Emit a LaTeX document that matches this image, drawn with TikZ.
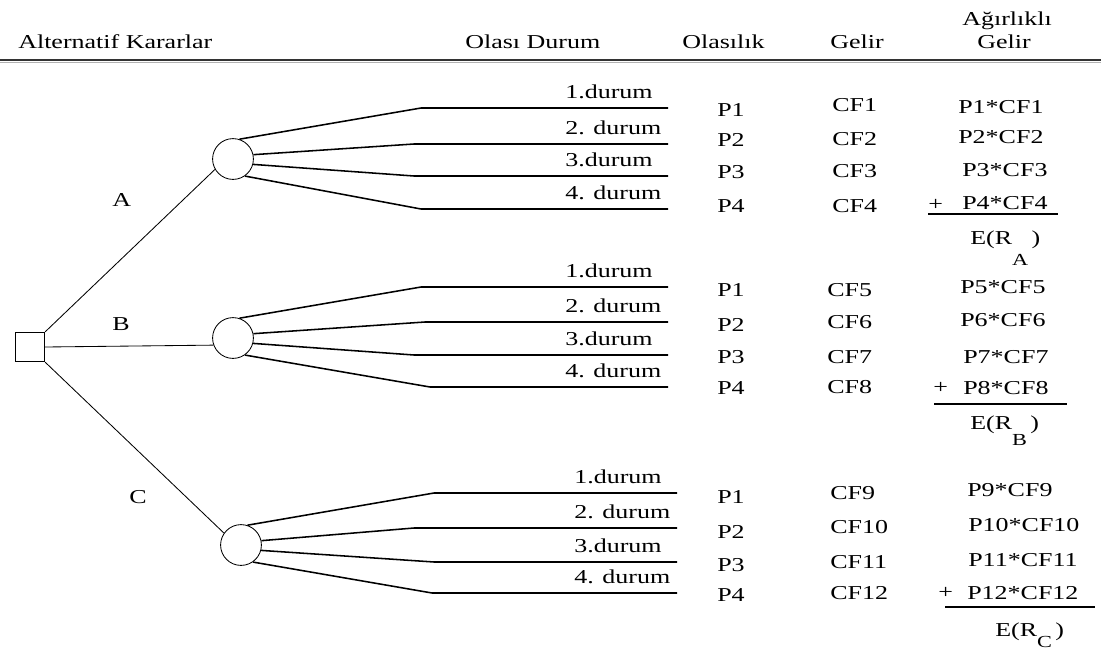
\documentclass[tikz,border=0pt]{standalone}
\usepackage{fontspec}
\setmainfont[FakeStretch=1.32]{Liberation Serif}
\usetikzlibrary{positioning}

\newcommand{\subidx}[2]{\raisebox{#1}{\fontsize{12}{14}\selectfont #2}}

\tikzset{
  chance/.style={draw, circle, minimum size=1.02cm, inner sep=0pt, line width=0.6pt},
  decision/.style={draw, rectangle, minimum size=0.74cm, inner sep=0pt, line width=0.6pt},
  outcome/.style={line width=1.1pt},
  branch/.style={line width=0.6pt},
  head/.style={font=\fontsize{14}{16}\selectfont, inner sep=0pt, anchor=base west},
  lbl/.style={font=\fontsize{14}{16}\selectfont, inner sep=0pt, anchor=base west},
  cell/.style={font=\fontsize{14}{16}\selectfont, inner sep=0pt, anchor=west}
}

\begin{document}
\begin{tikzpicture}[x=0.025cm, y=-0.025cm]
\useasboundingbox (0,0) rectangle (1101,653);

% column headings
\node[head] (hAlt) at (18,48) {Alternatif Kararlar};
\node[head] (hDur) at (465,48) {Olası Durum};
\node[head] (hOla) at (682,48) {Olasılık};
\node[head] (hGel) at (830,48) {Gelir};
\node[head] (hAgi) at (962,25) {Ağırlıklı};
\node[head] (hAgG) at (977,48) {Gelir};
\draw[line width=1.5pt, black!80] (0,60) -- (1101,60);
\draw[line width=0.8pt, black!30] (0,62.5) -- (1101,62.5);

% decision node and chance nodes
\node[decision] (dec) at (30,347) {};
\node[chance] (ca) at (233,159) {};
\node[chance] (cb) at (233,338) {};
\node[chance] (cc) at (241,545) {};

% alternatives
\draw[branch] (dec.north east) -- (ca.210);
\draw[branch] (dec.east) -- (cb.200);
\draw[branch] (dec.south east) -- (cc.145);
\node[cell] (lA) at (112,200) {A};
\node[cell] (lB) at (112,324) {B};
\node[cell] (lC) at (129,497) {C};

% outcomes of A
\foreach \n/\ang/\xs/\y/\lab in {1/72/421/108/1.durum, 2/12/414/144/2. durum, 3/-15/414/176/3.durum, 4/-55/421/209/4. durum}{
  \coordinate (a\n) at (\xs,\y);
  \coordinate (ae\n) at (668,\y);
  \draw[outcome] (ca.\ang) -- (a\n) -- (ae\n);
  \node[lbl] (al\n) at (565,\y-10) {\lab};
}
% outcomes of B
\foreach \n/\ang/\xs/\y/\lab in {1/72/421/287/1.durum, 2/12/425/322/2. durum, 3/-15/414/355/3.durum, 4/-55/430/387/4. durum}{
  \coordinate (b\n) at (\xs,\y);
  \coordinate (be\n) at (668,\y);
  \draw[outcome] (cb.\ang) -- (b\n) -- (be\n);
  \node[lbl] (bl\n) at (565,\y-10) {\lab};
}
% outcomes of C
\foreach \n/\ang/\xs/\y/\lab in {1/72/434/493/1.durum, 2/12/414/528/2. durum, 3/-15/434/562/3.durum, 4/-55/432/593/4. durum}{
  \coordinate (c\n) at (\xs,\y);
  \coordinate (ce\n) at (677,\y);
  \draw[outcome] (cc.\ang) -- (c\n) -- (ce\n);
  \node[lbl] (cl\n) at (574,\y-10) {\lab};
}

% probabilities, incomes and weighted incomes
\foreach \n/\py/\cy/\wx/\wy in {1/110/105/958/107, 2/140/139/958/137, 3/172/171/962/170, 4/206/206/962/203}{
  \node[cell] (ap\n) at (717,\py) {P\n};
  \node[cell] (acf\n) at (832,\cy) {CF\n};
  \node[cell] (aw\n) at (\wx,\wy) {P\n*CF\n};
}
\foreach \n/\k/\py/\cy/\wx/\wy in {1/5/290/290/960/287, 2/6/325/322/960/320, 3/7/357/357/963/357, 4/8/388/387/963/388}{
  \node[cell] (bp\n) at (717,\py) {P\n};
  \node[cell] (bcf\n) at (827,\cy) {CF\k};
  \node[cell] (bw\n) at (\wx,\wy) {P\k*CF\k};
}
\foreach \n/\k/\py/\cy/\wx/\wy in {1/9/497/493/967/490, 2/10/532/527/968/525, 3/11/565/562/968/560, 4/12/595/593/967/593}{
  \node[cell] (cp\n) at (717,\py) {P\n};
  \node[cell] (ccf\n) at (830,\cy) {CF\k};
  \node[cell] (cw\n) at (\wx,\wy) {P\k*CF\k};
}

% sums
\node[cell] (aplus) at (928,205) {+};
\coordinate (asum1) at (928,214);
\coordinate (asum2) at (1058,214);
\draw[outcome] (asum1) -- (asum2);
\node[cell, anchor=base west] (aer) at (970,244) {E(R\subidx{-1.1em}{A}\,)};

\node[cell] (bplus) at (933,388) {+};
\coordinate (bsum1) at (934,404);
\coordinate (bsum2) at (1067,404);
\draw[outcome] (bsum1) -- (bsum2);
\node[cell, anchor=base west] (ber) at (970,429) {E(R\subidx{-0.85em}{B}\,)};

\node[cell] (cplus) at (938,593) {+};
\coordinate (csum1) at (945,607);
\coordinate (csum2) at (1095,607);
\draw[outcome] (csum1) -- (csum2);
\node[cell, anchor=base west] (cer) at (995,636) {E(R\subidx{-0.6em}{C}\,)};
\end{tikzpicture}
\end{document}
